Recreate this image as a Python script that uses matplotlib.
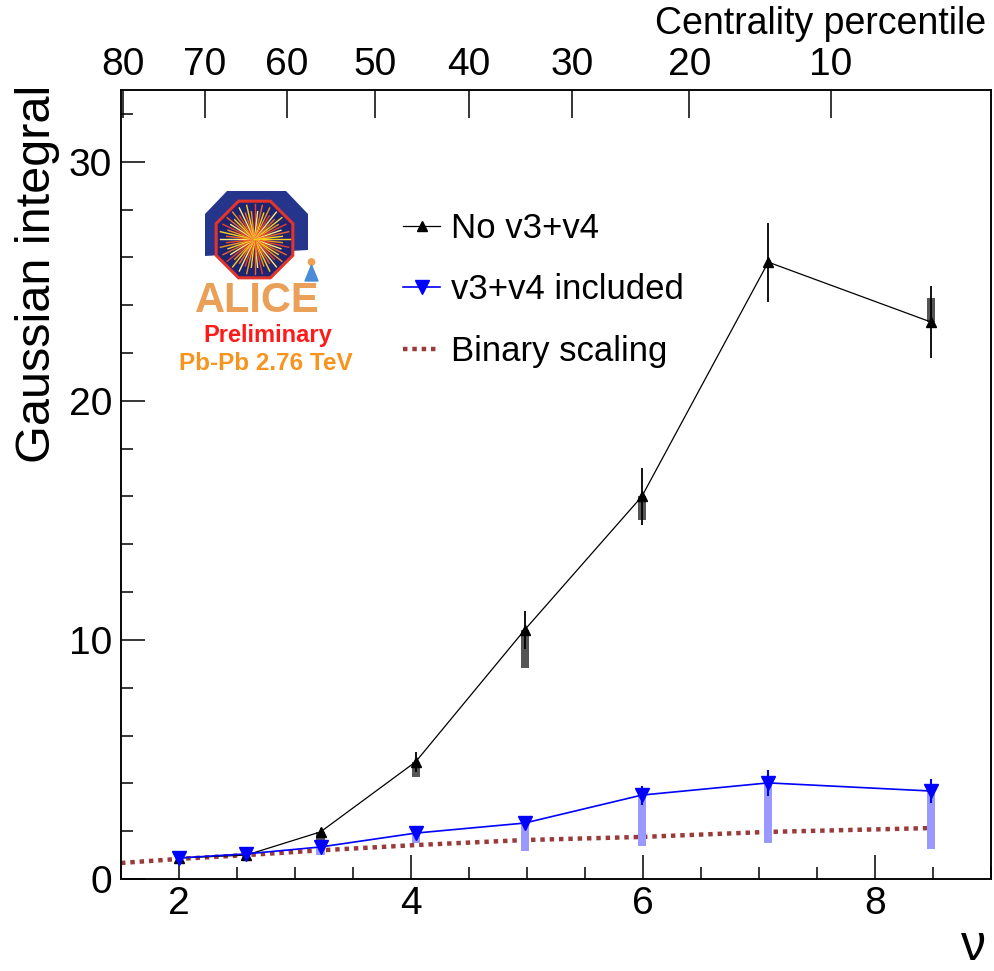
import matplotlib
matplotlib.use('Agg')
import matplotlib.pyplot as plt
import numpy as np
from matplotlib.patches import Polygon, Circle
from matplotlib.ticker import MultipleLocator

plt.rcParams['font.family'] = ['Liberation Sans', 'DejaVu Sans']

# ---------------- data ----------------
nu = [2.0, 2.58, 3.22, 4.04, 4.98, 5.99, 7.08, 8.48]

no_v34 = [0.88, 1.0, 1.97, 4.9, 10.42, 16.0, 25.8, 23.3]
no_v34_stat = [0.1, 0.1, 0.15, 0.41, 0.8, 1.2, 1.65, 1.5]
no_v34_sys_lo = [0.88, 1.0, 1.55, 4.27, 8.83, 15.0, 25.8, 23.3]
no_v34_sys_hi = [0.88, 1.0, 1.97, 4.9, 10.42, 16.0, 25.8, 24.3]

with_v34 = [0.88, 1.05, 1.34, 1.92, 2.34, 3.51, 4.02, 3.68]
with_v34_stat = [0.1, 0.1, 0.15, 0.15, 0.2, 0.4, 0.55, 0.5]
with_v34_sys_lo = [0.88, 1.05, 1.0, 1.5, 1.17, 1.38, 1.5, 1.25]
with_v34_sys_hi = [0.88, 1.05, 1.34, 1.92, 2.34, 3.51, 4.02, 3.68]

binary_nu = [1.5, 2.0, 2.58, 3.22, 4.04, 4.98, 5.99, 7.08, 8.48]
binary = [0.67, 0.84, 1.0, 1.2, 1.42, 1.63, 1.76, 1.97, 2.13]

cent_labels = ['80', '70', '60', '50', '40', '30', '20', '10']
cent_nu = [1.52, 2.22, 2.93, 3.69, 4.50, 5.39, 6.40, 7.62]

x_ticks = [2, 4, 6, 8]
y_ticks = [0, 10, 20, 30]

# ---------------- figure ----------------
W, H = 994, 971
fig = plt.figure(figsize=(W / 100, H / 100), dpi=100)
L, R, T, B = 121, 991, 90, 879
ax = fig.add_axes([L / W, 1 - B / H, (R - L) / W, (B - T) / H])
ax.set_xlim(1.5, 9.0)
ax.set_ylim(0, 33)

# binary scaling
ax.plot(binary_nu, binary, color='#9A3B3B', lw=3.2, ls=(0, (1, 1.1)),
        dash_capstyle='butt', zorder=2, label='Binary scaling')

# systematic boxes
ax.bar(nu, np.subtract(no_v34_sys_hi, no_v34_sys_lo), bottom=no_v34_sys_lo,
       width=0.07, color='#555555', zorder=3)
ax.bar(nu, np.subtract(with_v34_sys_hi, with_v34_sys_lo), bottom=with_v34_sys_lo,
       width=0.07, color='#9999FF', zorder=3)

# lines + markers
l1, = ax.plot(nu, no_v34, '-^', color='black', lw=0.9, ms=7, zorder=5,
              label='No v3+v4')
l2, = ax.plot(nu, with_v34, '-v', color='#0000FF', lw=1.2, ms=10, zorder=5,
              label='v3+v4 included')
ax.errorbar(nu, no_v34, yerr=no_v34_stat, fmt='none', ecolor='black',
            elinewidth=1.3, capsize=0, zorder=4)
ax.errorbar(nu, with_v34, yerr=with_v34_stat, fmt='none', ecolor='#0000FF',
            elinewidth=1.5, capsize=0, zorder=4)

# axes styling
for s in ax.spines.values():
    s.set_linewidth(1.1)
ax.set_xticks(x_ticks)
ax.set_yticks(y_ticks)
ax.xaxis.set_minor_locator(MultipleLocator(0.5))
ax.yaxis.set_minor_locator(MultipleLocator(2))
ax.tick_params(which='both', direction='in', top=False, right=False, width=1.1)
ax.tick_params(which='major', length=17, labelsize=28)
ax.tick_params(axis='x', which='major', pad=5)
ax.tick_params(axis='y', which='major', pad=6.5)
ax.tick_params(which='minor', length=8.5)

ax2 = ax.twiny()
ax2.set_xlim(ax.get_xlim())
ax2.set_xticks(cent_nu)
ax2.set_xticklabels(cent_labels)
ax2.tick_params(direction='in', length=20, width=1.1, labelsize=28, pad=5)
ax2.xaxis.set_minor_locator(matplotlib.ticker.NullLocator())
for s in ax2.spines.values():
    s.set_linewidth(1.1)

# axis titles
fig.text(50 / W, 1 - 85 / H, 'Gaussian integral', rotation=90,
         rotation_mode='anchor', ha='right', va='baseline', fontsize=35)
fig.text(986 / W, 1 - 34 / H, 'Centrality percentile', ha='right',
         va='baseline', fontsize=27)
fig.text(973 / W, 1 - 960 / H, 'ν', ha='center', va='baseline', fontsize=36)

# legend
ax.legend(handles=[l1, l2, ax.lines[0]], loc='upper left',
          bbox_to_anchor=(403 / W, 1 - 212 / H), bbox_transform=fig.transFigure,
          frameon=False, fontsize=25, handlelength=1.07, handletextpad=0.3,
          labelspacing=0.82, borderpad=0, borderaxespad=0)

# ---------------- ALICE logo (decoration) ----------------
lx0, lx1, ly0, ly1 = 170, 370, 180, 385
lg = fig.add_axes([lx0 / W, 1 - ly1 / H, (lx1 - lx0) / W, (ly1 - ly0) / H])
lg.set_xlim(lx0, lx1)
lg.set_ylim(ly1, ly0)
lg.axis('off')
lg.add_patch(Polygon([(205, 256), (205, 214), (227, 191), (286, 191),
                      (308, 214), (308, 250)], closed=True,
                     facecolor='#26358C', edgecolor='none'))
cx, cy, Rr = 254.5, 239.5, 41.5
ang = np.deg2rad(22.5 + 45 * np.arange(8))
lg.add_patch(Polygon(np.c_[cx + Rr * np.cos(ang), cy + Rr * np.sin(ang)],
                     closed=True, facecolor='#1E2470', edgecolor='#E3342B',
                     lw=2.2))
ray_cols = ['#FFD21F', '#F7941D', '#E8402A', '#FFE97A', '#F26522']
for k, a in enumerate(np.linspace(0, 2 * np.pi, 56, endpoint=False)):
    r = 35 if k % 2 == 0 else 28
    lg.plot([cx, cx + r * np.cos(a)], [cy, cy + r * np.sin(a)],
            color=ray_cols[k % len(ray_cols)], lw=1.0)
lg.add_patch(Circle((311.5, 262), 3.2, color='#F0A050'))
lg.add_patch(Polygon([(305, 281), (318, 281), (311.5, 265)], closed=True,
                     color='#4A8CD8'))
lg.text(257, 312, 'ALICE', ha='center', va='baseline', fontsize=30,
        fontweight='bold', color='#EBA059')
lg.text(268, 342, 'Preliminary', ha='center', va='baseline', fontsize=17,
        fontweight='bold', color='#FF1A1A')
lg.text(266, 370, 'Pb-Pb 2.76 TeV', ha='center', va='baseline', fontsize=17.5,
        fontweight='bold', color='#F7941D')

fig.savefig('out.png', dpi=100)
